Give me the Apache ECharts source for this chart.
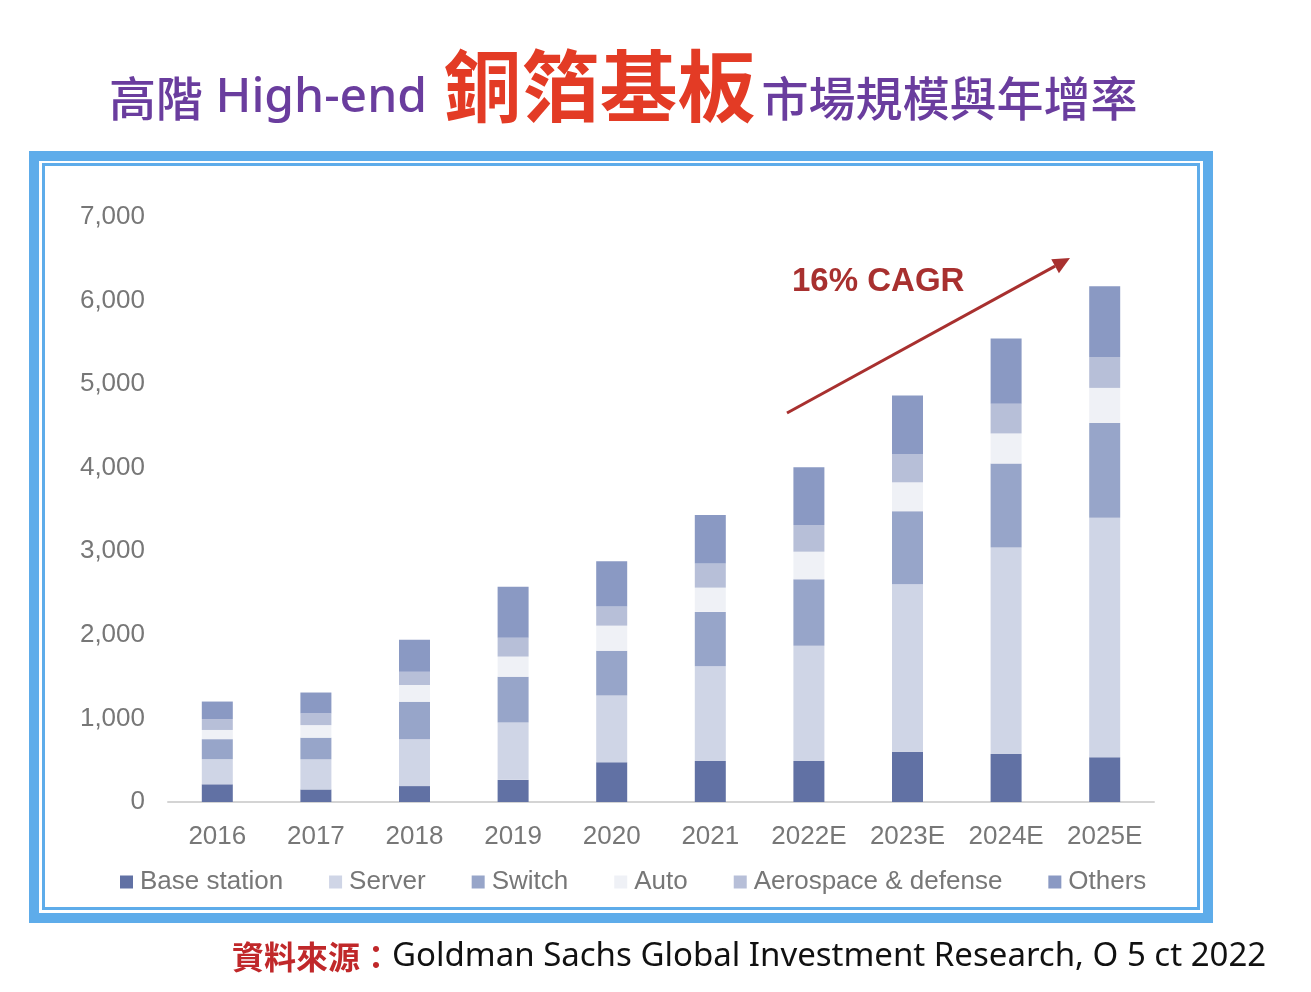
<!DOCTYPE html>
<html>
<head>
<meta charset="utf-8">
<script src="https://cdn.jsdelivr.net/npm/echarts@6/dist/echarts.min.js"></script>
<style>
  html, body { margin: 0; padding: 0; background: #fff; }
  #chart { width: 1311px; height: 992px; }
</style>
</head>
<body>
<div id="chart"></div>
<script>
// categories and segment values
var years = ['2016', '2017', '2018', '2019', '2020', '2021', '2022E', '2023E', '2024E', '2025E'];
var baseStation = [212, 150, 190, 265, 475, 490, 490, 600, 575, 535];
var server = [300, 360, 560, 685, 800, 1135, 1380, 2005, 2470, 2865];
var switchVals = [240, 260, 450, 550, 535, 650, 795, 875, 1005, 1135];
var auto = [110, 150, 200, 240, 300, 290, 330, 345, 360, 420];
var aerospace = [130, 140, 160, 225, 230, 290, 320, 340, 355, 370];
var others = [210, 250, 380, 610, 540, 580, 690, 700, 780, 845];
var yTicks = { min: 0, max: 7000, interval: 1000 };

var chart = echarts.init(document.getElementById('chart'));

function barSeries(name, data, color) {
    return {
        name: name,
        type: 'bar',
        stack: 'total',
        barWidth: 31,
        data: data,
        itemStyle: { color: color },
        emphasis: { disabled: true }
    };
}

// arrow head for the CAGR annotation
var ax1 = 787, ay1 = 413, ax2 = 1070, ay2 = 258;
var ang = Math.atan2(ay2 - ay1, ax2 - ax1);
var headLen = 17, headW = 8;
var bx = ax2 - headLen * Math.cos(ang), by = ay2 - headLen * Math.sin(ang);
var head = [
    [ax2, ay2],
    [bx + headW * Math.sin(ang), by - headW * Math.cos(ang)],
    [bx - headW * Math.sin(ang), by + headW * Math.cos(ang)]
];

var option = {
    animation: false,
    textStyle: { fontFamily: 'Liberation Sans, Arial, sans-serif' },
    title: [{
        left: 104,
        top: 42,
        text: '{a|高階}{h| High-end }{b|銅箔基板}{a|市場規模與年增率}',
        textStyle: {
            rich: {
                a: { fontFamily: 'Noto Sans CJK TC', fontSize: 47, color: '#6a3d9e', fontWeight: 500, verticalAlign: 'bottom', padding: [0, 0, 3, 0] },
                h: { fontFamily: 'Noto Sans', fontSize: 48, color: '#6a3d9e', fontWeight: 500, verticalAlign: 'bottom', padding: [0, 4, 3, 0] },
                b: { fontFamily: 'Noto Sans CJK TC', fontSize: 78, color: '#e33b25', fontWeight: 'bold', verticalAlign: 'bottom', padding: [0, 6, 0, 0] }
            }
        }
    }, {
        left: 227,
        top: 935,
        text: '{r|資料來源：}{k|Goldman Sachs Global Investment Research, O 5 ct 2022}',
        textStyle: {
            rich: {
                r: { fontFamily: 'Noto Sans CJK TC', fontSize: 32, color: '#c0282a', fontWeight: 'bold' },
                k: { fontFamily: 'Noto Sans', fontSize: 33, color: '#111', fontWeight: 'normal' }
            }
        }
    }],
    legend: {
        bottom: 92,
        left: 115,
        icon: 'rect',
        itemWidth: 13,
        itemHeight: 13,
        itemGap: 46,
        textStyle: { fontSize: 26, color: '#777', padding: [0, 0, 0, 2] },
        data: ['Base station', 'Server', 'Switch', 'Auto', 'Aerospace & defense', 'Others']
    },
    grid: { left: 168, right: 157, top: 217, bottom: 190, containLabel: false },
    xAxis: {
        type: 'category',
        data: years,
        axisLine: { lineStyle: { color: '#d4d4d4', width: 2 } },
        axisTick: { show: false },
        axisLabel: { fontSize: 26, color: '#777', margin: 22, interval: 0 }
    },
    yAxis: {
        type: 'value',
        min: yTicks.min,
        max: yTicks.max,
        interval: yTicks.interval,
        splitLine: { show: false },
        axisLine: { show: false },
        axisTick: { show: false },
        axisLabel: {
            fontSize: 26,
            color: '#777',
            margin: 23,
            formatter: function (v) { return v.toLocaleString('en-US'); }
        }
    },
    series: [
        barSeries('Base station', baseStation, '#6171a4'),
        barSeries('Server', server, '#cfd5e6'),
        barSeries('Switch', switchVals, '#97a5c9'),
        barSeries('Auto', auto, '#eff1f6'),
        barSeries('Aerospace & defense', aerospace, '#b7bfd8'),
        barSeries('Others', others, '#8a99c3')
    ],
    graphic: [
        // double blue frame
        { type: 'rect', shape: { x: 34, y: 156, width: 1174, height: 762 }, style: { fill: 'none', stroke: '#5eacea', lineWidth: 10 }, silent: true },
        { type: 'rect', shape: { x: 43.5, y: 164.5, width: 1155, height: 744 }, style: { fill: 'none', stroke: '#5eacea', lineWidth: 3 }, silent: true },
        // CAGR annotation
        { type: 'line', shape: { x1: ax1, y1: ay1, x2: bx, y2: by }, style: { stroke: '#a8302f', lineWidth: 3 }, silent: true },
        { type: 'polygon', shape: { points: head }, style: { fill: '#a8302f' }, silent: true },
        { type: 'text', left: 792, top: 265, style: { text: '16% CAGR', fontSize: 33, fontWeight: 'bold', fill: '#a8302f', fontFamily: 'Liberation Sans, Arial, sans-serif' }, silent: true }
    ]
};

chart.setOption(option);
</script>
</body>
</html>
